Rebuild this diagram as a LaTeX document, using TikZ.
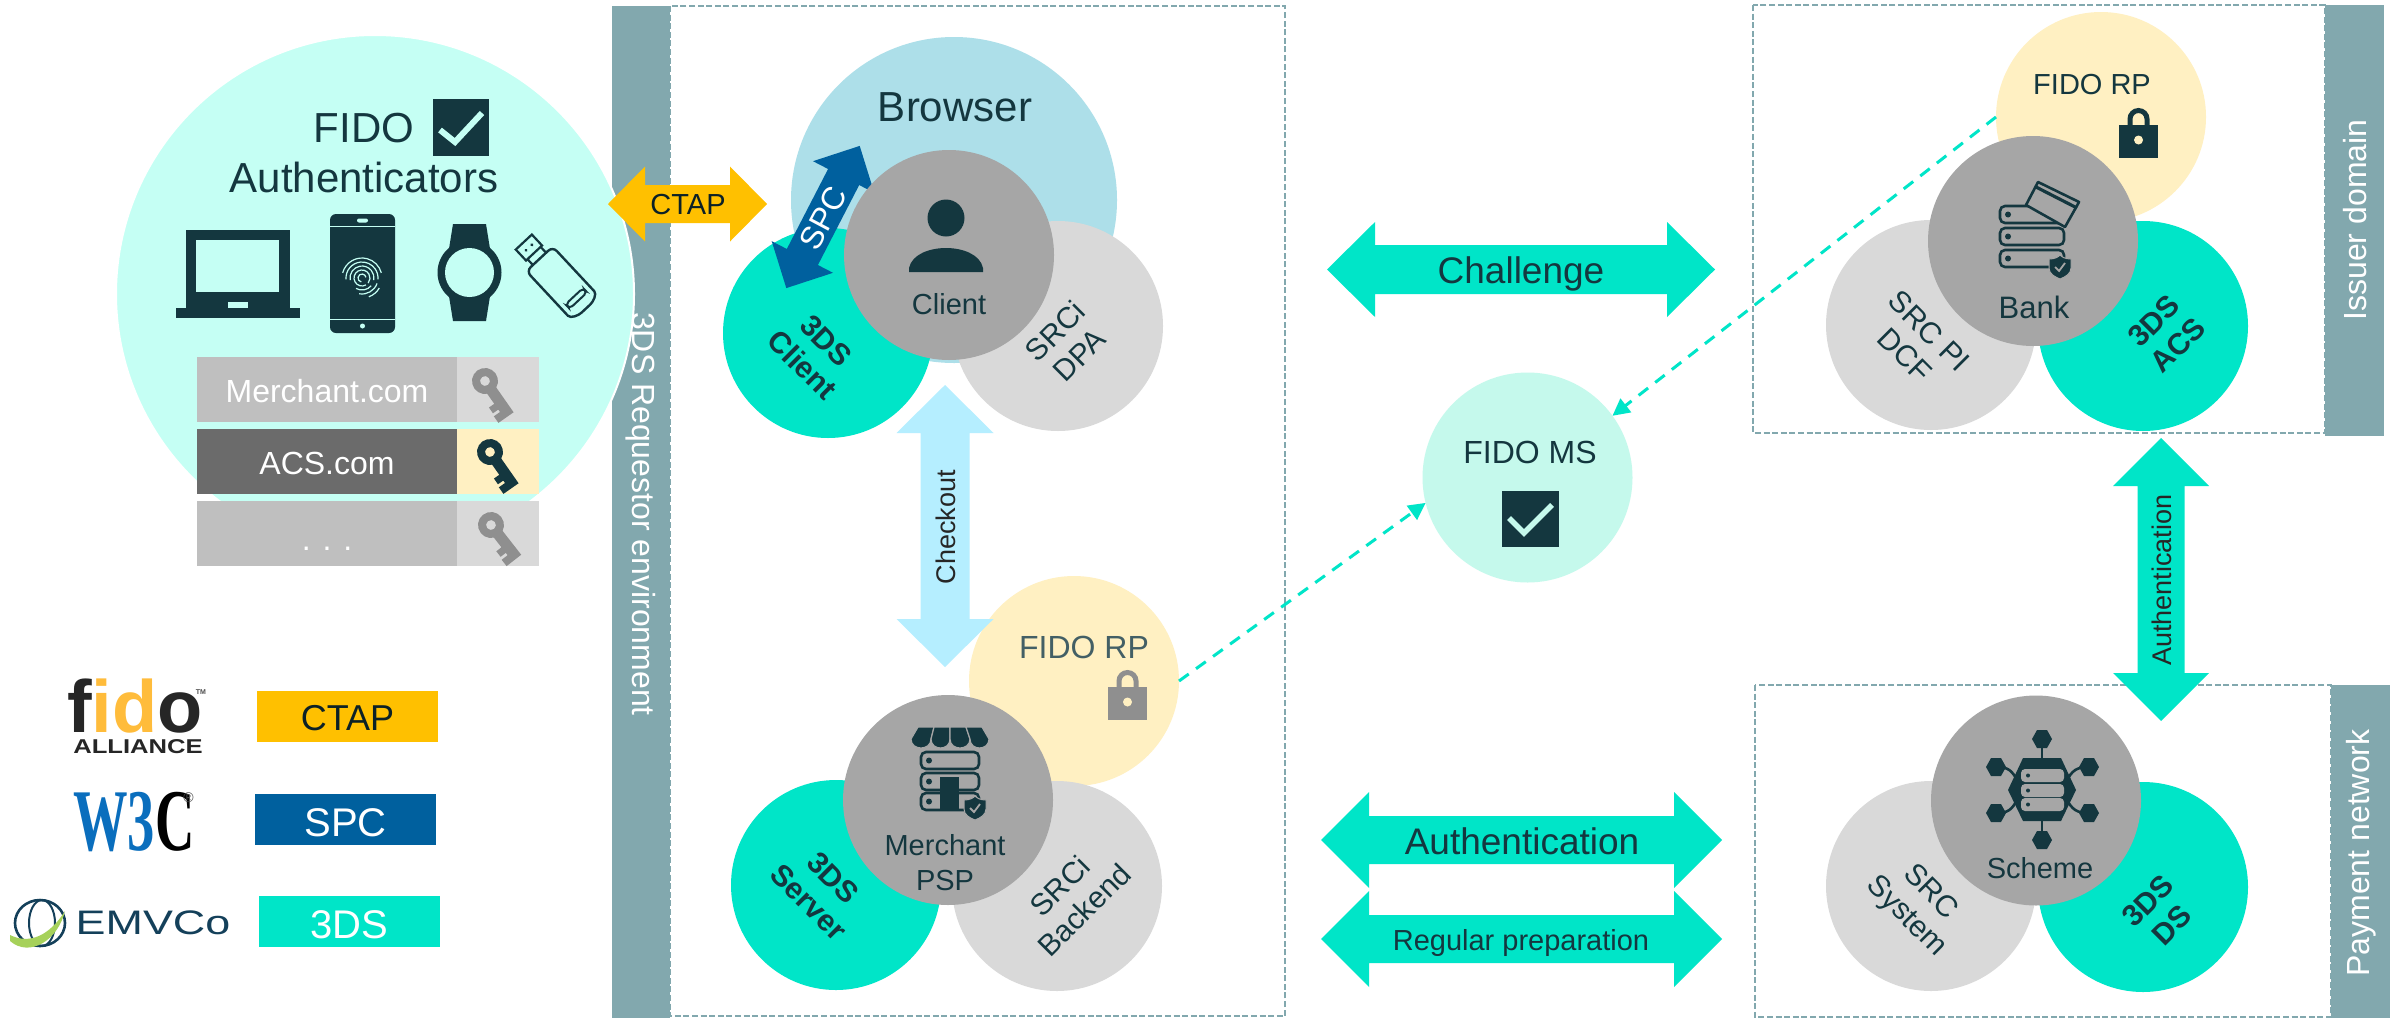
\documentclass[tikz,border=0pt]{standalone}
\usepackage{fontspec}
\setmainfont{Liberation Sans}
\usetikzlibrary{arrows.meta}
\definecolor{barc}{HTML}{82A8AE}
\definecolor{tds}{HTML}{00E5C8}
\definecolor{ink}{HTML}{14373F}
\definecolor{mint}{HTML}{C5FFF4}
\definecolor{msmint}{HTML}{C5F9EC}
\definecolor{brow}{HTML}{ADDFE9}
\definecolor{midg}{HTML}{A6A6A6}
\definecolor{ltg}{HTML}{D9D9D9}
\definecolor{rpy}{HTML}{FFF0C2}
\definecolor{ctapc}{HTML}{FFC000}
\definecolor{spcc}{HTML}{00609E}
\definecolor{chk}{HTML}{B5EEFF}
\definecolor{rowg}{HTML}{BFBFBF}
\definecolor{rowd}{HTML}{6B6B6B}
\definecolor{keyg}{HTML}{8F8F8F}
\definecolor{fidoy}{HTML}{FFBC3B}
\definecolor{w3b}{HTML}{0A6EBD}
\definecolor{emv}{HTML}{14405A}
\definecolor{emvg}{HTML}{A6D15A}
\newcommand{\fsz}[1]{\fontsize{#1}{#1}\selectfont}
% horizontal double block arrow: colour, x left, x right, y centre, head length, head half height, shaft half height
\newcommand{\hdbl}[7]{\fill[#1] (#2,#4) -- ({#2+#5},{#4-#6}) -- ({#2+#5},{#4-#7}) -- ({#3-#5},{#4-#7}) -- ({#3-#5},{#4-#6}) -- (#3,#4) -- ({#3-#5},{#4+#6}) -- ({#3-#5},{#4+#7}) -- ({#2+#5},{#4+#7}) -- ({#2+#5},{#4+#6}) -- cycle;}
\newcommand{\vdbl}[7]{\fill[#1] (#4,#2) -- ({#4-#6},{#2+#5}) -- ({#4-#7},{#2+#5}) -- ({#4-#7},{#3-#5}) -- ({#4-#6},{#3-#5}) -- (#4,#3) -- ({#4+#6},{#3-#5}) -- ({#4+#7},{#3-#5}) -- ({#4+#7},{#2+#5}) -- ({#4+#6},{#2+#5}) -- cycle;}
\tikzset{
  disc/.style={circle,draw=none,inner sep=0pt,outer sep=0pt,minimum size=105pt},
  txt/.style={inner sep=0pt,outer sep=0pt,text=ink},
  bartxt/.style={inner sep=0pt,text=white,font=\fsz{16}},
  bold3ds/.style={txt,align=center,font=\fsz{15}\bfseries},
  srctxt/.style={txt,align=center,font=\fsz{15}},
  dashbox/.style={draw=barc,line width=.8pt,dash pattern=on 3pt off 1.3pt},
  flow/.style={draw=tds,line width=1.5pt,dash pattern=on 6pt off 4.5pt,-{Triangle[length=8.5pt,width=8.5pt,fill=tds]}},
  flowlabel/.style={inner sep=0pt,anchor=base,text=ink},
  rowbox/.style={inner sep=0pt,minimum width=130pt,minimum height=32.5pt,text=white,font=\fsz{16},text height=12.8pt,text depth=0pt},
  keybox/.style={inner sep=0pt,minimum width=41pt,minimum height=32.5pt},
  legendbox/.style={inner sep=0pt,minimum width=90.5pt,minimum height=25.5pt,text depth=0pt},
  pics/lockicon/.style n args={2}{code={
    \fill[#1] (-19.5,0) rectangle (19.5,33);
    \draw[#1,line width=2.5pt] (-8.5,1) -- (-8.5,-6) arc[start angle=180,end angle=360,radius=8.5] -- (8.5,1);
    \fill[#2] (0,15) circle (4.5);
  }},
  pics/keyicon/.style n args={2}{code={
    \fill[#1,even odd rule] (0,0) circle (13) (0,0) circle (5);
    \fill[#1] (10,-5.5) -- (42,-5.5) -- (42,5.5) -- (42,13) -- (34,13) -- (34,5.5) -- (31,5.5) -- (31,12) -- (24,12) -- (24,5.5) -- (10,5.5) -- cycle;
  }},
  pics/srvrow/.style n args={3}{code={
    \draw[ink,line width=1.3pt,rounded corners=2.5pt] (0,0) rectangle (#1,#2);
    \fill[ink] (8,{#2/2}) circle (3);
  }},
  pics/shieldicon/.style={code={
    \fill[ink,draw=midg,line width=.5pt] (-11,-8) .. controls (-5,-8) and (-2,-10) .. (0,-12) .. controls (2,-10) and (5,-8) .. (11,-8) -- (11,1) .. controls (11,7) and (5,10) .. (0,12) .. controls (-5,10) and (-11,7) .. (-11,1) -- cycle;
    \draw[midg,line width=.9pt] (-5,0) -- (-1,4) -- (5,-4);
  }},
}
\begin{document}
\begin{tikzpicture}[x=.5pt,y=-.5pt]
\useasboundingbox (0,0) rectangle (2402,1018);
\fill[white] (0,0) rectangle (2402,1018);

% ---- side bars and dashed frames
\fill[barc] (612,6) rectangle (670,1018);
\draw[dashbox] (670,6) rectangle (1285,1016);
\fill[barc] (2325,5) rectangle (2384,436);
\draw[dashbox] (1753,5) rectangle (2325,433);
\fill[barc] (2331,685) rectangle (2390,1018);
\draw[dashbox] (1755,685) rectangle (2331,1017);

% ---- FIDO authenticators
\node[disc,draw=white,line width=1pt,fill=mint,minimum size=259pt] (auth) at (375,294) {};
\node[txt,anchor=base,font=\fsz{21}] (fidolab) at (364,142) {FIDO};
\node[txt,anchor=base,font=\fsz{21}] (authlab) at (364,192) {Authenticators};
\fill[ink] (433,99) rectangle (489,156);
\draw[mint,line width=3pt] (440,130) -- (455,142) -- (482,113);
% laptop
\fill[ink] (186,230) rectangle (290,308);
\fill[mint] (196,240) rectangle (279,292);
\fill[ink] (176,308) rectangle (300,318);
\fill[mint] (228,302) rectangle (248,308);
% phone
\fill[ink,rounded corners=3pt] (330,214) rectangle (395,333);
\fill[mint] (330,225.5) rectangle (395,227);
\fill[mint] (330,318.5) rectangle (395,320);
\fill[mint,rounded corners=1pt] (357,218.5) rectangle (368,222.5);
\fill[mint] (362.5,326) circle (2.5);
\foreach \r/\a/\b in {4/100/350,8/150/400,12/170/370,16/175/365,20/195/345,20/30/70,16/20/100,12/40/120,8/60/150}
  \draw[mint,line width=.6pt] (362,278) ++(\a:\r) arc[start angle=\a,end angle=\b,radius=\r];
% watch
\fill[ink] (453,224) -- (486,224) -- (491,255) -- (448,255) -- cycle;
\fill[ink] (453,321) -- (486,321) -- (491,290) -- (448,290) -- cycle;
\fill[ink] (469.5,272.5) circle (32);
\fill[mint] (469.5,272.5) circle (24.5);
% usb stick
\begin{scope}[shift={(562,283)},rotate=-47]
  \draw[ink,line width=1.2pt,rounded corners=3pt] (-33,-18) -- (22,-18) .. controls (32,-18) and (35,-10) .. (35,0) .. controls (35,10) and (32,18) .. (22,18) -- (-33,18) -- cycle;
  \draw[ink,line width=1pt,rounded corners=2pt] (18,-12) rectangle (24,12);
  \draw[ink,line width=1.1pt] (-33,-9) -- (-41,-9) (-33,9) -- (-41,9);
  \draw[ink,line width=1.1pt] (-56,-11) rectangle (-41,11);
  \fill[ink] (-48.5,-4) circle (1.7) (-48.5,4) circle (1.7);
\end{scope}
% credential rows
\node[rowbox,fill=rowg] (row1) at (327,389.5) {Merchant.com};
\node[keybox,fill=ltg] (key1) at (498,389.5) {};
\node[rowbox,fill=rowd] (row2) at (327,461.5) {ACS.com};
\node[keybox,fill=rpy] (key2) at (498,461.5) {};
\node[rowbox,fill=rowg,text height=16.5pt] (row3) at (327,533.5) {. . .};
\node[keybox,fill=ltg] (key3) at (498,533.5) {};
\pic[rotate=-55] at (485,381) {keyicon={keyg}{ltg}};
\pic[rotate=-55] at (490,452) {keyicon={ink}{rpy}};
\pic[rotate=-52] at (491,525) {keyicon={keyg}{ltg}};

% ---- Browser / client cluster
\node[disc,fill=brow,minimum size=163pt] (browser) at (954,200) {};
\node[disc,fill=tds] (tdsclient) at (828,333) {};
\node[disc,fill=ltg] (srcdpa) at (1058,326) {};
\begin{scope}[shift={(823,217)},rotate=62.7]
  \hdbl{spcc}{-80}{80}{0}{35}{34.5}{17.5}
\end{scope}
\node[disc,fill=midg] (client) at (949,255) {};
\node[txt,anchor=base,font=\fsz{21}] (browserlab) at (955,121) {Browser};
\node[inner sep=0pt,text=white,rotate=62,font=\fsz{16}] (spclab) at (823,218) {SPC};
\fill[ink] (946,218) circle (18.5);
\fill[ink] (909,272) -- (909,268) .. controls (912,254) and (930,248) .. (946,248) .. controls (962,248) and (980,254) .. (983,268) -- (983,272) -- cycle;
\node[txt,anchor=base,font=\fsz{14.5}] (clientlab) at (949,314) {Client};
\node[bold3ds,rotate=-45] (tdsclab) at (814,353) {3DS\\[2pt]Client};
\node[srctxt,rotate=45] (dpalab) at (1067,343) {SRCi\\[2pt]DPA};

% ---- CTAP arrow
\hdbl{ctapc}{608}{767}{204}{37}{37.5}{19}
\node[inner sep=0pt,anchor=base,text=ink!60!black,font=\fsz{14.5}] (ctaplab) at (688,214) {CTAP};

% ---- Merchant cluster
\node[disc,fill=rpy] (rpm) at (1074,681) {};
\node[disc,fill=ltg] (srcback) at (1057,886) {};
\node[disc,fill=tds] (tdsserver) at (836,885) {};
\vdbl{chk}{385}{667}{945}{48}{48.5}{24.5}
\node[disc,fill=midg] (merchant) at (948,800) {};
\node[inner sep=0pt,rotate=90,text=black!85,font=\fsz{13.5}] (chklab) at (946,527) {Checkout};
\node[txt,anchor=base,font=\fsz{16},text=ink!80!white] (rpmlab) at (1084,658) {FIDO RP};
\pic at (1127.5,687) {lockicon={keyg}{rpy}};
% merchant icon
\foreach \a/\b/\c/\d in {918/934/911/931,934/950/931/950,950/966/950/970,966/982/970/989}
  \fill[ink,draw=midg,line width=.6pt] (\a,727) -- (\b,727) -- (\d,739) .. controls (\d,751) and (\c,751) .. (\c,739) -- cycle;
\pic at (921,752) {srvrow={58}{17}{}};
\pic at (921,773) {srvrow={58}{17}{}};
\pic at (921,793) {srvrow={58}{17}{}};
\fill[ink] (940,777) rectangle (959,809);
\pic at (975,808) {shieldicon};
\node[txt,anchor=base,font=\fsz{14.5}] (merlab) at (945,855) {Merchant};
\node[txt,anchor=base,font=\fsz{14.5}] (psplab) at (945,890) {PSP};
\node[bold3ds,rotate=-45] (tdsslab) at (821,890) {3DS\\[2pt]Server};
\node[srctxt,rotate=45] (backlab) at (1072,898) {SRCi\\[2pt]Backend};

% ---- Centre flows
\hdbl{tds}{1327}{1715}{269.5}{48}{47.5}{24.5}
\node[flowlabel,font=\fsz{18.5}] (challab) at (1521,283) {Challenge};
\hdbl{tds}{1321}{1722}{840}{48}{48}{24}
\node[flowlabel,font=\fsz{18.5}] (authflow) at (1522,854) {Authentication};
\hdbl{tds}{1321}{1722}{939}{48}{48}{24}
\node[flowlabel,font=\fsz{14.5}] (regflow) at (1521,950) {Regular preparation};
\node[disc,fill=msmint] (ms) at (1527.5,477.5) {};
\node[txt,anchor=base,font=\fsz{16}] (mslab) at (1530,463) {FIDO MS};
\fill[ink] (1502,491) rectangle (1559,547);
\draw[msmint,line width=2.7pt] (1509,518) -- (1524,533) -- (1552,505);

% ---- Issuer cluster
\node[disc,fill=rpy] (rpi) at (2101,117) {};
\node[disc,fill=ltg] (srcpi) at (1931,325) {};
\node[disc,fill=tds] (acs) at (2143,326) {};
\node[disc,fill=midg] (bank) at (2033,241) {};
\node[txt,anchor=base,font=\fsz{14.5}] (rpilab) at (2092,94) {FIDO RP};
\pic at (2138.5,125) {lockicon={ink}{rpy}};
\node[txt,anchor=base,font=\fsz{15.5}] (banklab) at (2034,318) {Bank};
\node[srctxt,rotate=-45] (pilab) at (1917,343) {SRC PI\\[2pt]DCF};
\node[bold3ds,rotate=45] (acslab) at (2166,333) {3DS\\[2pt]ACS};
% bank icon
\pic at (2000,206) {srvrow={64}{17}{}};
\pic at (2000,228) {srvrow={64}{17}{}};
\pic at (2000,250) {srvrow={64}{17}{}};
\fill[midg] (2038,182) -- (2079,202) -- (2065,227) -- (2026,205) -- cycle;
\draw[ink,line width=1.3pt,line join=round] (2038,182) -- (2079,202) -- (2065,227) -- (2026,205) -- cycle;
\draw[ink,line width=1.6pt] (2036,187) -- (2077,208);
\pic at (2060,267) {shieldicon};

% ---- Scheme cluster
\node[disc,fill=ltg] (srcsys) at (1931,886) {};
\node[disc,fill=tds] (tdsds) at (2143,887) {};
\node[disc,fill=midg] (scheme) at (2036,800.5) {};
\node[txt,anchor=base,font=\fsz{14.5}] (schlab) at (2040,878) {Scheme};
\node[srctxt,rotate=-45] (syslab) at (1918,905) {SRC\\[2pt]System};
\node[bold3ds,rotate=45] (dslab) at (2160,913) {3DS\\[2pt]DS};
% scheme icon
\draw[ink,line width=1.3pt] (2042,739) -- (2042,840);
\draw[ink,line width=1.3pt] (1996,767) .. controls (2008,767) and (2012,770) .. (2018,782);
\draw[ink,line width=1.3pt] (2089,767) .. controls (2077,767) and (2072,770) .. (2066,782);
\draw[ink,line width=1.3pt] (1996,813) .. controls (2008,813) and (2012,810) .. (2018,798);
\draw[ink,line width=1.3pt] (2089,813) .. controls (2077,813) and (2072,810) .. (2066,798);
\foreach \hx/\hy in {2042/739,2042/840,1996/767,2089/767,1996/813,2089/813}
  \fill[ink,shift={(\hx,\hy)}] (10,0) -- (5,-9) -- (-5,-9) -- (-10,0) -- (-5,9) -- (5,9) -- cycle;
\fill[ink] (2008,790) -- (2023,758) -- (2061,758) -- (2076,790) -- (2061,821) -- (2023,821) -- cycle;
\foreach \ry in {769,784,798}{
  \fill[midg,rounded corners=2pt] (2021,\ry) rectangle (2064,{\ry+13});
  \fill[ink] (2028,{\ry+6.5}) circle (2);
}

% ---- Vertical authentication arrow
\vdbl{tds}{438}{721}{2161}{48}{48}{23.5}
\node[inner sep=0pt,rotate=90,text=black!85,font=\fsz{13.5}] (vauth) at (2162,580) {Authentication};

% ---- Dashed connectors to FIDO MS
\draw[flow] (rpm.east) -- (ms.194);
\draw[flow] (rpi.west) -- (ms.36);

% ---- Bar labels
\node[bartxt,rotate=-90] (reqlab) at (641,514) {3DS Requestor environment};
\node[bartxt,rotate=90] (isslab) at (2355,220) {Issuer domain};
\node[bartxt,rotate=90] (paylab) at (2361,853) {Payment network};

% ---- Legend
\node[legendbox,fill=ctapc,text=ink!60!black,font=\fsz{18},text height=14pt] (legctap) at (347.5,716.5) {CTAP};
\node[legendbox,fill=spcc,text=white,font=\fsz{20},text height=17pt] (legspc) at (345.5,819) {SPC};
\node[legendbox,fill=tds,text=white,font=\fsz{20},text height=16.5pt] (legtds) at (349.5,921.5) {3DS};

% ---- fido logo
\node[inner sep=0pt,anchor=base,font=\fsz{37}\bfseries] (fidologo) at (135,732) {\textcolor{black!85}{f}\textcolor{fidoy}{id}\textcolor{black!85}{o}};
\node[inner sep=0pt,anchor=base,font=\fsz{3.5}\bfseries,text=black!70] (fidotm) at (201,694) {TM};
\node[inner sep=0pt,anchor=base,font=\fsz{10}\bfseries,text=black!85] (fidoall) at (138,753) {\scalebox{1.28}[1]{ALLIANCE}};
% W3C logo
\node[inner sep=0pt,anchor=base,font=\fsz{44}\bfseries\rmfamily,text=w3b] (w3logo) at (134,850) {\scalebox{.62}[1]{\setmainfont{Liberation Serif}\bfseries W3\textcolor{black}{C}}};
\node[inner sep=0pt,font=\fsz{7},text=black!70] (w3reg) at (188.5,798) {®};
% EMVCo logo
\draw[emv,line width=1.3pt] (40,923) ellipse (25 and 23);
\draw[emv,line width=1pt] (42,923) ellipse (13 and 23);
\fill[emvg] (10,935) .. controls (30,945) and (50,935) .. (65,911) .. controls (58,940) and (30,958) .. (10,941) -- cycle;
\node[inner sep=0pt,anchor=base,font=\fsz{17},text=emv] (emvlogo) at (153,934) {\scalebox{1.32}[1]{EMVCo}};
\end{tikzpicture}
\end{document}
